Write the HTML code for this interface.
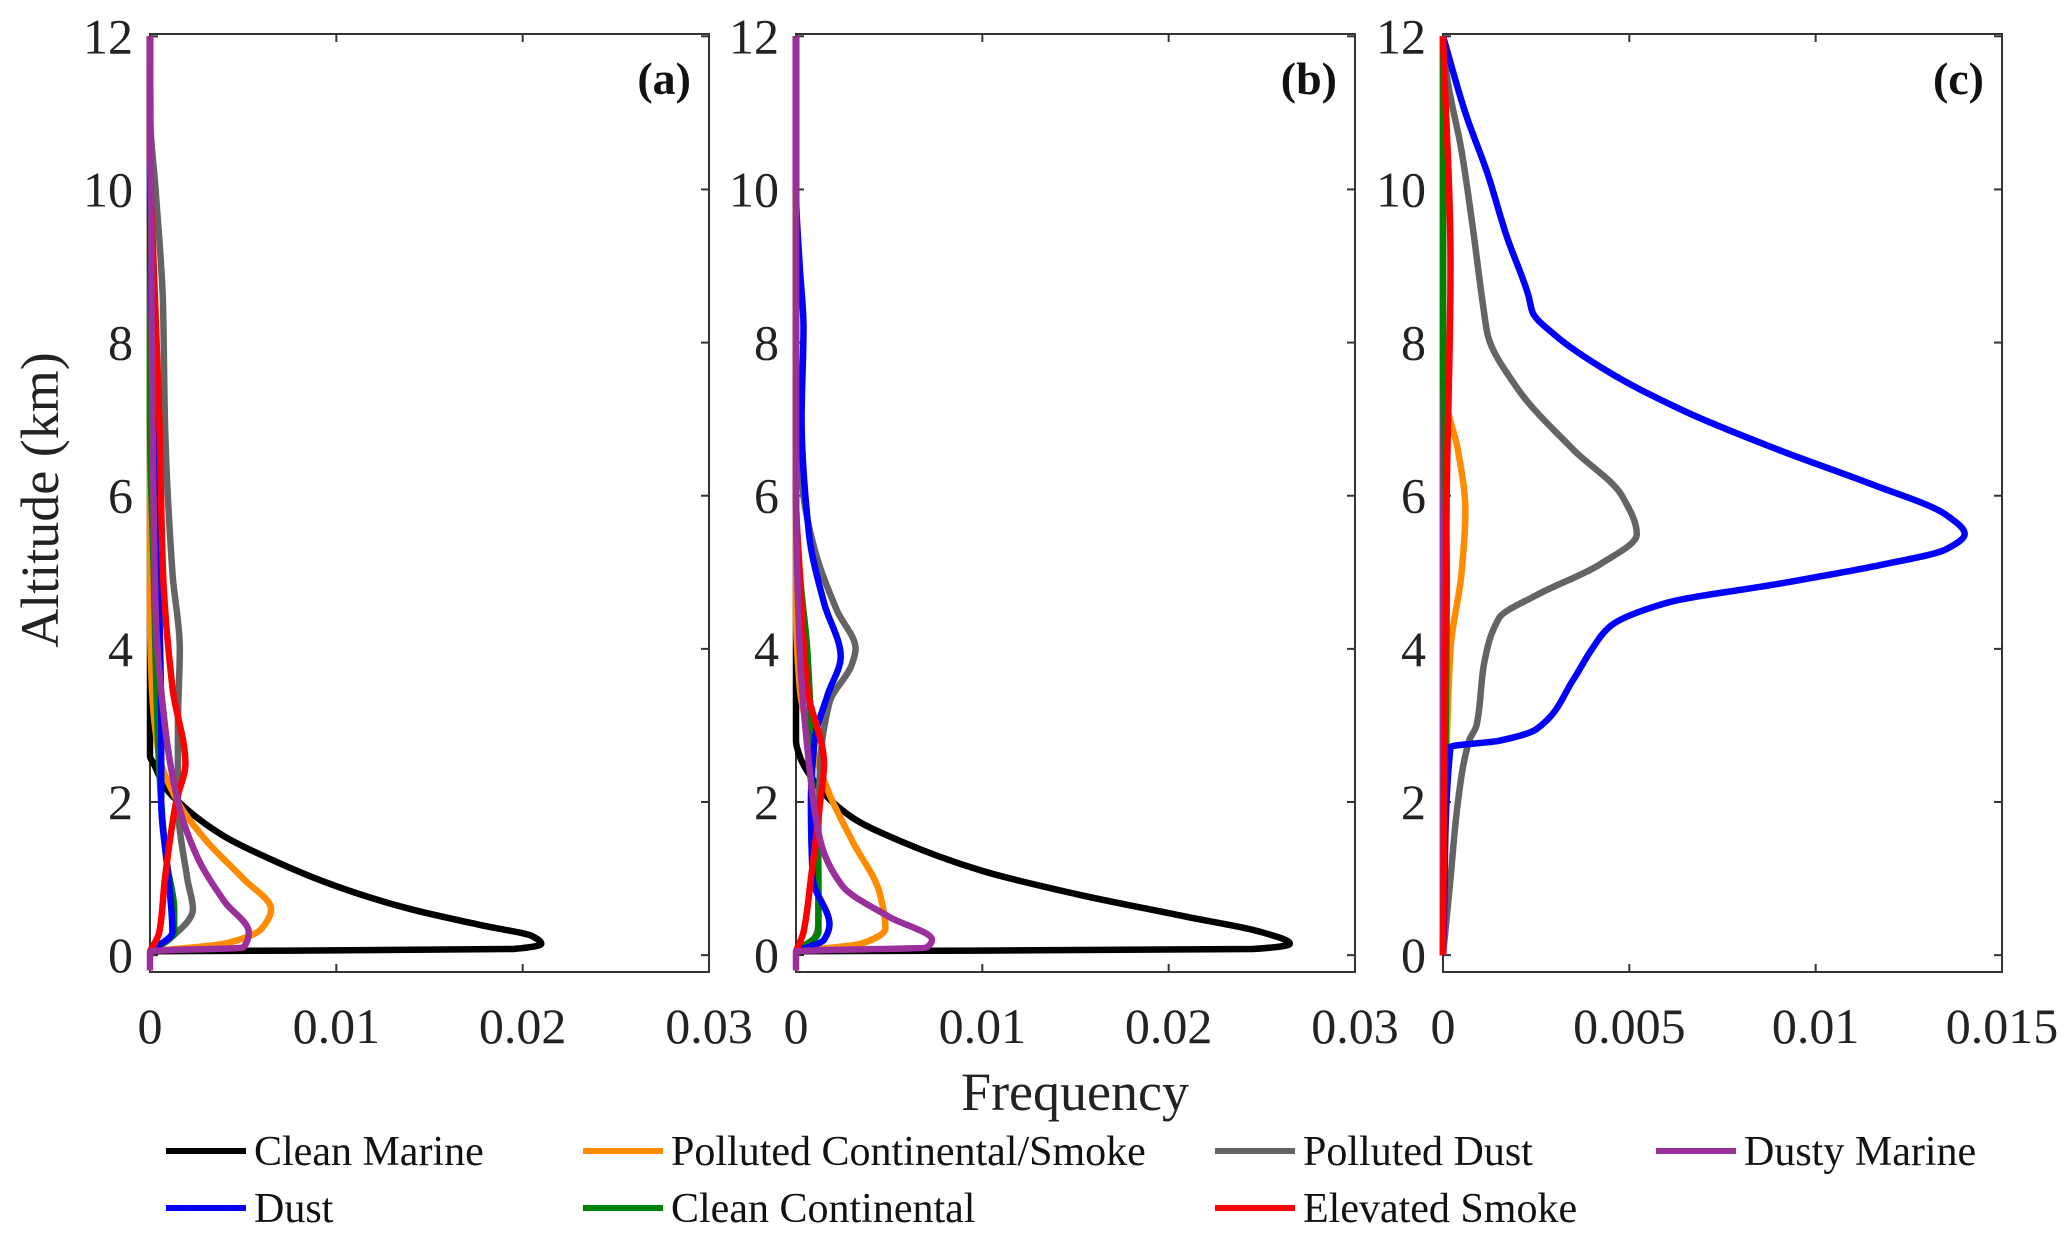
<!DOCTYPE html>
<html><head><meta charset="utf-8"><style>
html,body{margin:0;padding:0;background:#fff;}
svg{display:block;font-family:"Liberation Serif",serif;}
</style></head><body>
<svg id="chart" width="2067" height="1236" viewBox="0 0 2067 1236" xmlns="http://www.w3.org/2000/svg"></svg>
<script>
const seriesNames = ["Clean Marine","Polluted Continental/Smoke","Polluted Dust","Dusty Marine","Dust","Clean Continental","Elevated Smoke"];
const seriesColors = ["#000000","#ff8c00","#646464","#9b2f9b","#0000ff","#008000","#ff0000"];
const yTicks = [0,2,4,6,8,10,12];
const xTicksAB = [0,0.01,0.02,0.03];
const xTicksC = [0,0.005,0.01,0.015];
const xTickLabelsAB = ["0","0.01","0.02","0.03"];
const xTickLabelsC = ["0","0.005","0.01","0.015"];
const panelLabels = ["(a)","(b)","(c)"];
// each series: [frequency, altitude km]
const aCleanMarine=[[0,0.05],[0.0195,0.08],[0.021,0.15],[0.0205,0.25],[0.018,0.38],[0.014,0.6],[0.010,0.9],[0.0065,1.25],[0.004,1.55],[0.002,1.9],[0.0008,2.2],[0.0002,2.5],[0,2.6],[0,12]];
const aPollCont=[[0,0.05],[0.004,0.15],[0.006,0.35],[0.0065,0.6],[0.005,1.0],[0.003,1.5],[0.0015,2.0],[0.0005,2.6],[0.0001,3.5],[0,4.5],[0,12]];
const aPollDust=[[0,0.05],[0.001,0.2],[0.0023,0.6],[0.002,1.0],[0.0015,2.0],[0.0015,3.0],[0.0016,4.0],[0.0012,5],[0.0008,7],[0.0007,8.5],[0.0003,10],[0,11],[0,12]];
const aDustyMarine=[[0,-0.2],[0,0.05],[0.005,0.1],[0.0053,0.3],[0.004,0.7],[0.0025,1.3],[0.0015,2.0],[0.0008,3],[0.0003,4.5],[0.0001,8],[0,12]];
const aDust=[[0,0.05],[0.0012,0.3],[0.001,1.0],[0.0006,2],[0.0006,3],[0.0005,4.5],[0.0002,7],[0,10],[0,12]];
const aCleanCont=[[0,0.05],[0.0013,0.3],[0.0013,0.6],[0.0009,1.2],[0.0006,2],[0.0004,3],[0.0002,5],[0,7],[0,12]];
const aElevSmoke=[[0,0.05],[0.0005,0.3],[0.0008,1],[0.0014,2],[0.0019,2.5],[0.0012,3.5],[0.0007,5],[0.0005,7],[0.0002,9],[0,10.5],[0,12]];
const bCleanMarine=[[0,0.05],[0.0245,0.08],[0.0265,0.15],[0.025,0.3],[0.021,0.5],[0.015,0.8],[0.010,1.1],[0.0055,1.5],[0.003,1.8],[0.0012,2.2],[0.0002,2.6],[0,2.8],[0,12]];
const bPollCont=[[0,0.05],[0.0035,0.15],[0.0048,0.35],[0.0045,0.8],[0.003,1.5],[0.0018,2.1],[0.0008,2.8],[0.0002,3.5],[0,4.5],[0,12]];
const bPollDust=[[0,0.05],[0.0008,0.15],[0.0012,0.4],[0.0012,1.5],[0.0013,2.5],[0.0018,3.3],[0.003,3.8],[0.0032,4.0],[0.0022,4.5],[0.001,5.3],[0.0004,6],[0.0001,7],[0,8],[0,12]];
const bDustyMarine=[[0,-0.2],[0,0.05],[0.007,0.1],[0.0073,0.2],[0.005,0.5],[0.0025,0.9],[0.0013,1.5],[0.0007,2.5],[0.0002,4],[0,6],[0,12]];
const bDust=[[0,0.05],[0.0015,0.2],[0.0018,0.4],[0.0009,1],[0.0008,2],[0.001,2.8],[0.0017,3.4],[0.0024,3.9],[0.0015,4.6],[0.0007,5.5],[0.0003,7],[0.0004,8.2],[0.0002,9],[0,10],[0,12]];
const bCleanCont=[[0,0.05],[0.0012,0.3],[0.0012,1],[0.0009,2],[0.0008,3],[0.0006,4],[0.0002,5],[0,6],[0,12]];
const bElevSmoke=[[0,0.05],[0.0004,0.3],[0.0008,1],[0.0013,2],[0.0015,2.5],[0.0006,3.5],[0.0002,5],[0,6],[0,12]];
const cCleanMarine=[[0,0],[0,12]];
const cPollCont=[[0,0],[0.0001,2.7],[0.0002,4],[0.0005,5],[0.0006,5.8],[0.0004,6.6],[0.0001,7.2],[0,8],[0,12]];
const cPollDust=[[0,0],[0.0002,1],[0.0004,2],[0.0007,2.8],[0.0009,3.0],[0.0011,3.8],[0.0015,4.4],[0.0025,4.7],[0.0042,5.1],[0.0052,5.5],[0.0048,6.0],[0.0035,6.6],[0.002,7.4],[0.0012,8.1],[0.0011,8.4],[0.0008,9.5],[0.0005,10.5],[0.0001,11.5],[0,12]];
const cDustyMarine=[[0,0],[0,12]];
const cDust=[[0,0],[0.0002,2.72],[0.0015,2.8],[0.0025,2.95],[0.0035,3.6],[0.004,4.0],[0.0045,4.3],[0.006,4.6],[0.009,4.85],[0.0118,5.1],[0.0135,5.3],[0.014,5.5],[0.0135,5.75],[0.0115,6.15],[0.009,6.6],[0.0065,7.1],[0.0045,7.6],[0.003,8.1],[0.0024,8.4],[0.0023,8.6],[0.0017,9.4],[0.0012,10.2],[0.0006,11],[0,12]];
const cCleanCont=[[0,0],[0.0001,5],[0,8],[0,12]];
const cElevSmoke=[[0,0],[0.0001,6],[0.0002,9],[0,12]];

const NS="http://www.w3.org/2000/svg";
const svg=document.getElementById('chart');
function mk(tag,attrs,parent){const e=document.createElementNS(NS,tag);for(const k in attrs)e.setAttribute(k,attrs[k]);(parent||svg).appendChild(e);return e;}
const top_=34,bot=972,ymin=-0.22,ymax=12.03;
function yS(v){return bot-(v-ymin)/(ymax-ymin)*(bot-top_);}
// monotone cubic interpolation of x as a function of altitude
function pathFrom(pts,xS){
  const n=pts.length, Y=pts.map(d=>d[1]), X=pts.map(d=>d[0]);
  const h=[],del=[];
  for(let i=0;i<n-1;i++){h.push(Y[i+1]-Y[i]);del.push((X[i+1]-X[i])/(h[i]||1e-9));}
  const m=new Array(n);
  m[0]=del[0];m[n-1]=del[n-2];
  for(let i=1;i<n-1;i++){
    if(del[i-1]*del[i]<=0)m[i]=0;
    else{const w1=2*h[i]+h[i-1],w2=h[i]+2*h[i-1];m[i]=(w1+w2)/(w1/del[i-1]+w2/del[i]);}
  }
  let s="M"+xS(X[0]).toFixed(1)+","+yS(Y[0]).toFixed(1);
  for(let i=0;i<n-1;i++){
    const d=h[i]/3;
    s+="C"+xS(X[i]+m[i]*d).toFixed(1)+","+yS(Y[i]+d).toFixed(1)+" "+xS(X[i+1]-m[i+1]*d).toFixed(1)+","+yS(Y[i+1]-d).toFixed(1)+" "+xS(X[i+1]).toFixed(1)+","+yS(Y[i+1]).toFixed(1);
  }
  return s;
}
const panels=[
 {x0:150,x1:709,xmax:0.03,ticks:xTicksAB,labels:xTickLabelsAB,data:[aCleanMarine,aPollCont,aPollDust,aDustyMarine,aDust,aCleanCont,aElevSmoke]},
 {x0:796,x1:1355,xmax:0.03,ticks:xTicksAB,labels:xTickLabelsAB,data:[bCleanMarine,bPollCont,bPollDust,bDustyMarine,bDust,bCleanCont,bElevSmoke]},
 {x0:1443,x1:2002,xmax:0.015,ticks:xTicksC,labels:xTickLabelsC,data:[cCleanMarine,cPollCont,cPollDust,cDustyMarine,cDust,cCleanCont,cElevSmoke]}
];
const order=[0,1,2,5,4,6,3];
const orderC=[0,3,1,5,2,4,6];
panels.forEach((P,pi)=>{
  const g=mk('g',{});
  
  
  const xS=v=>P.x0+v/P.xmax*(P.x1-P.x0);
  const frame=mk('rect',{x:P.x0,y:top_,width:P.x1-P.x0,height:bot-top_,fill:'none',stroke:'#333',"stroke-width":2},g);
  
  
  yTicks.forEach(v=>{
    const y=yS(v);
    mk('line',{x1:P.x0,x2:P.x0+8,y1:y,y2:y,stroke:'#333',"stroke-width":2},g);
    mk('line',{x1:P.x1,x2:P.x1-8,y1:y,y2:y,stroke:'#333',"stroke-width":2},g);
    const t=mk('text',{x:P.x0-17,y:y+17,"font-size":50,"text-anchor":"end",fill:'#222'},g);
    t.textContent=String(v);
    
    
  });
  P.ticks.forEach((v,i)=>{
    const x=xS(v);
    mk('line',{x1:x,x2:x,y1:bot,y2:bot-8,stroke:'#333',"stroke-width":2},g);
    mk('line',{x1:x,x2:x,y1:top_,y2:top_+8,stroke:'#333',"stroke-width":2},g);
    const t=mk('text',{x:x,y:1043,"font-size":50,"text-anchor":"middle",fill:'#222'},g);
    t.textContent=P.labels[i];
    
    
  });
  const ord=pi==2?orderC:order;
  ord.forEach(si=>{
    const p=mk('path',{d:pathFrom(P.data[si],xS),fill:'none',stroke:seriesColors[si],"stroke-width":6.5,"stroke-linejoin":"round","stroke-linecap":"butt"},g);
    
    
  });
  const pl=mk('text',{x:P.x1-18,y:94,"font-size":46,"font-weight":"bold","text-anchor":"end",fill:'#111'},g);
  pl.textContent=panelLabels[pi];
  
  
});
const yt=mk('text',{x:0,y:0,"font-size":54,"text-anchor":"middle",fill:'#222',transform:"translate(58,500) rotate(-90)"});
yt.textContent="Altitude (km)";


const xt=mk('text',{x:1075,y:1110,"font-size":54,"text-anchor":"middle",fill:'#222'});
xt.textContent="Frequency";


const legPos=[[166,1151],[583,1151],[1215,1151],[1656,1151],[166,1208],[583,1208],[1215,1208]];
const legItems=[0,1,2,3,4,5,6];
legItems.forEach((si,i)=>{
  const [lx,ly]=legPos[i];
  const g=mk('g',{});
  
  
  mk('line',{x1:lx,x2:lx+80,y1:ly,y2:ly,stroke:seriesColors[si],"stroke-width":6},g);
  const t=mk('text',{x:lx+88,y:ly+14,"font-size":42,fill:'#111'},g);
  t.textContent=seriesNames[si];
});
</script>
</body></html>
